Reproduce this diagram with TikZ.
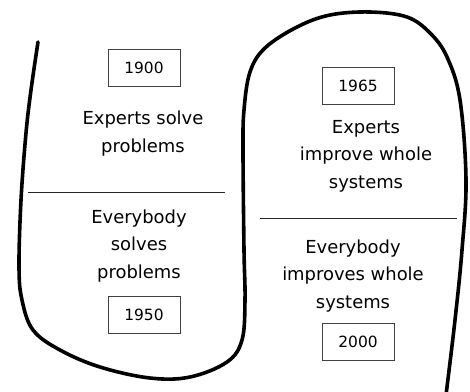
\documentclass[tikz,border=0pt]{standalone}
\usepackage{fontspec}
\setmainfont{DejaVu Sans}
\begin{document}
\begin{tikzpicture}[x=1bp,y=-1bp,
  yearbox/.style={draw=black!75, line width=0.9bp, minimum width=72bp, minimum height=37bp,
    inner sep=0pt, font=\fontsize{15.5}{18}\selectfont},
  caption/.style={align=center, inner sep=0pt, anchor=base,
    font=\fontsize{18}{27.5}\selectfont},
  divider/.style={line width=0.9bp, black!85},
  stroke/.style={line width=3.6bp, line cap=round, line join=round}]
\useasboundingbox (0,0) rectangle (470,391);

% one continuous hand-drawn stroke: left loop, then the arch on the right
\draw[stroke] plot[smooth, tension=0.6] coordinates {
  (38,42) (31,90) (26,133) (21,200) (19,267) (22,300) (33,330) (60,350)
  (100,367) (150,378) (190,377) (227,362) (242,340) (245,300) (244,250)
  (243,150) (244,110) (250,72) (265,48) (297,27) (330,15) (370,12)
  (407,17) (430,33) (447,57) (460,100) (466,180) (462,250) (455,320)
  (446,395)};

% left column (caption nodes sit on the baseline of their last line)
\node[yearbox] (y1900) at (144,68) {1900};
\node[caption] (t1) at (143,152) {Experts solve\\problems};
\coordinate (d1a) at (28,192);
\coordinate (d1b) at (225,192);
\draw[divider] (d1a) -- (d1b);
\node[caption] (t2) at (139,278) {Everybody\\solves\\problems};
\node[yearbox] (y1950) at (144,315) {1950};

% right column
\node[yearbox] (y1965) at (358,86) {1965};
\node[caption] (t3) at (366,188) {Experts\\improve whole\\systems};
\coordinate (d2a) at (260,218);
\coordinate (d2b) at (457,218);
\draw[divider] (d2a) -- (d2b);
\node[caption] (t4) at (353,308) {Everybody\\improves whole\\systems};
\node[yearbox] (y2000) at (358,342) {2000};
\end{tikzpicture}
\end{document}
